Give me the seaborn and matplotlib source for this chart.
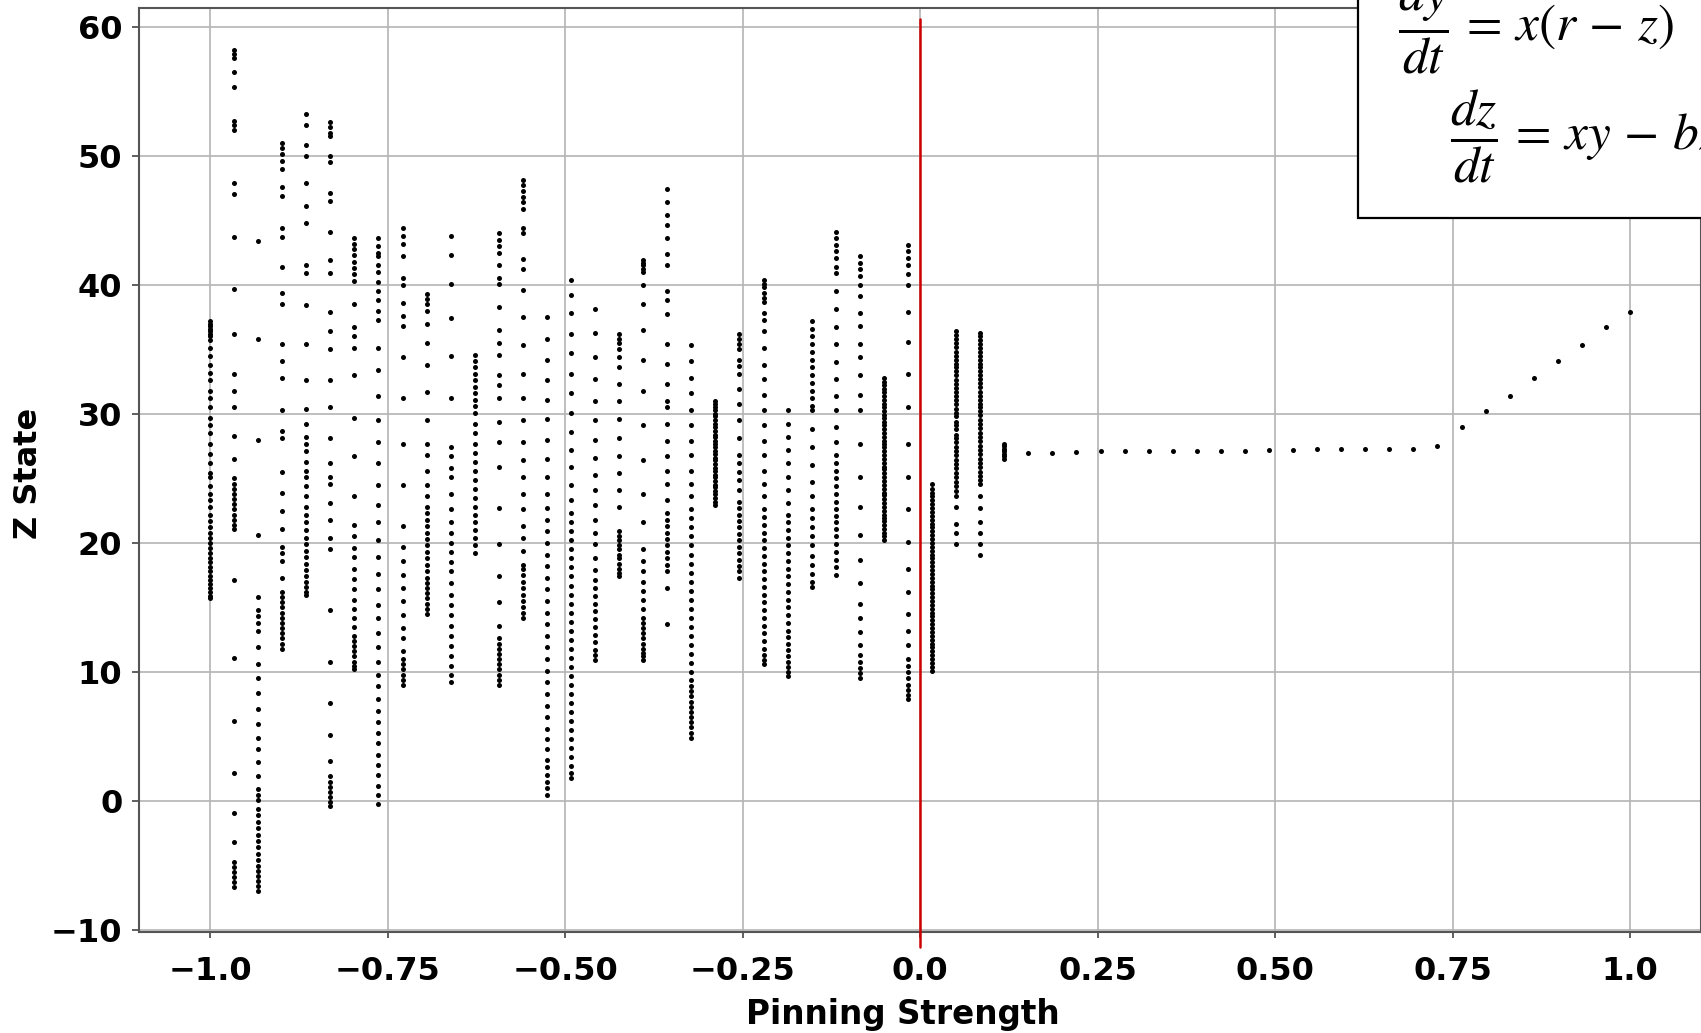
import numpy as np
import pandas as pd
import matplotlib
matplotlib.use("Agg")
import matplotlib.pyplot as plt
import seaborn as sns
from matplotlib.patches import Rectangle

# ---------------- data ----------------
pinning = np.linspace(-1.0, 1.0, 60)   # swept pinning strengths

col_00 = [37.2, 37.0, 36.8, 36.6, 36.4, 36.2, 36.0, 35.7, 35.1, 34.5, 33.8, 33.2, 32.6, 31.8, 31.2, 30.5,
          29.7, 29.1, 28.5, 27.7, 26.9, 26.2, 25.4, 25.1, 24.4, 23.8, 23.3, 22.8, 22.2, 21.7, 21.2, 20.8,
          20.4, 20.0, 19.6, 19.2, 18.8, 18.5, 18.1, 17.8, 17.4, 17.1, 16.8, 16.5, 16.2, 15.9, 15.7]
col_01 = [58.2, 57.9, 57.6, 56.5, 55.3, 52.7, 52.4, 52.0, 47.9, 47.0, 43.7, 39.7, 36.2, 33.1, 31.8, 30.5,
          28.3, 26.5, 25.0, 24.6, 24.2, 23.8, 23.4, 23.0, 22.6, 22.2, 21.8, 21.4, 21.1, 17.1, 11.1, 6.2,
          2.2, -0.9, -3.2, -4.7, -5.1, -5.5, -5.9, -6.3, -6.7]
col_02 = [43.4, 35.8, 28.0, 20.6, 15.8, 14.8, 14.3, 13.8, 13.2, 11.9, 10.6, 9.5, 8.4, 7.1, 6.0, 4.9, 4.0,
          3.0, 1.9, 0.9, 0.5, 0.1, -0.6, -1.1, -1.6, -2.1, -2.6, -3.1, -3.6, -4.1, -4.6, -5.0, -5.4,
          -5.8, -6.2, -6.6, -7.0]
col_03 = [51.0, 50.6, 50.1, 49.6, 49.0, 47.6, 46.9, 44.4, 43.7, 41.4, 39.4, 38.5, 35.4, 34.1, 32.8, 30.3,
          28.7, 28.1, 25.5, 23.9, 22.5, 21.1, 19.7, 19.2, 18.6, 17.3, 16.2, 15.8, 15.4, 15.0, 14.6, 14.2,
          13.8, 13.4, 13.0, 12.6, 12.2, 11.8]
col_04 = [53.2, 52.4, 50.8, 50.0, 47.9, 46.1, 44.8, 41.5, 40.9, 38.4, 35.4, 32.6, 30.4, 29.2, 28.2, 27.7,
          27.1, 26.3, 25.6, 25.1, 24.4, 23.6, 22.8, 22.2, 21.6, 21.0, 20.4, 19.9, 19.4, 18.9, 18.4, 17.9,
          17.4, 17.0, 16.6, 16.2, 16.0]
col_05 = [52.6, 52.2, 51.8, 51.5, 50.0, 49.5, 47.1, 46.5, 44.1, 41.9, 40.9, 37.9, 36.4, 35.0, 32.6, 30.5,
          28.1, 26.2, 25.1, 24.6, 23.1, 21.8, 20.4, 19.5, 14.8, 10.8, 7.6, 5.1, 3.1, 1.9, 1.5, 1.1, 0.7,
          0.3, -0.1, -0.4]
col_06 = [43.6, 43.2, 42.8, 42.3, 41.8, 41.3, 40.8, 40.3, 38.5, 36.7, 36.0, 35.1, 33.0, 29.7, 26.7, 23.6,
          21.4, 20.5, 19.6, 18.9, 18.0, 17.2, 16.4, 15.6, 14.9, 14.2, 13.5, 12.8, 12.4, 12.0, 11.6, 11.2,
          10.8, 10.5, 10.2]
col_07 = [43.6, 43.0, 42.5, 42.2, 41.5, 41.0, 40.2, 39.5, 38.8, 38.0, 37.3, 35.1, 33.4, 31.4, 29.5, 27.8,
          26.2, 24.5, 22.9, 21.6, 20.2, 18.9, 17.6, 16.4, 15.2, 14.2, 13.0, 11.9, 10.8, 9.8, 8.9, 7.9,
          7.0, 6.1, 5.3, 4.5, 3.6, 2.8, 2.0, 1.2, 0.5, -0.2]
col_08 = [44.4, 43.8, 43.2, 42.2, 40.5, 40.0, 38.6, 37.6, 36.8, 34.4, 31.2, 27.7, 24.5, 21.3, 19.7, 18.6,
          17.5, 16.5, 15.5, 14.4, 13.4, 12.6, 11.6, 11.0, 10.6, 10.2, 9.8, 9.4, 9.0]
col_09 = [39.3, 38.9, 38.5, 38.0, 37.0, 35.5, 33.8, 31.7, 29.5, 27.7, 26.8, 25.6, 24.5, 23.6, 22.8, 22.3,
          21.8, 21.3, 20.8, 20.3, 19.8, 19.3, 18.8, 18.3, 17.8, 17.3, 16.9, 16.5, 16.1, 15.7, 15.3, 14.9,
          14.5]
col_10 = [43.8, 42.3, 40.1, 37.4, 34.5, 31.2, 27.4, 26.7, 25.8, 25.1, 23.8, 22.6, 21.6, 20.8, 20.0, 19.3,
          18.5, 17.8, 16.9, 16.0, 15.2, 14.4, 13.6, 12.8, 12.0, 11.2, 10.5, 9.8, 9.2]
col_11 = [34.6, 34.1, 33.6, 33.1, 32.6, 32.1, 31.6, 31.1, 30.6, 30.1, 29.2, 28.5, 27.7, 27.0, 26.3, 25.6,
          24.9, 24.2, 23.5, 22.8, 22.2, 21.6, 21.0, 20.4, 19.8, 19.2]
col_12 = [44.0, 43.5, 43.0, 42.5, 41.5, 40.5, 40.1, 38.3, 36.5, 35.5, 34.6, 33.0, 32.2, 31.2, 29.4, 27.8,
          25.9, 22.7, 19.9, 17.4, 15.4, 13.6, 12.6, 12.2, 11.8, 11.4, 11.0, 10.6, 10.2, 9.8, 9.4, 9.0]
col_13 = [48.1, 47.7, 47.3, 46.8, 46.4, 45.9, 44.4, 44.0, 42.0, 41.2, 39.6, 37.5, 35.3, 33.1, 31.2, 29.5,
          27.8, 26.4, 25.1, 23.8, 22.6, 21.3, 20.4, 19.4, 18.3, 18.0, 17.5, 17.0, 16.5, 16.0, 15.5, 15.0,
          14.6, 14.2]
col_14 = [37.5, 35.8, 34.2, 32.6, 31.1, 29.6, 28.0, 26.5, 25.1, 23.8, 22.7, 21.8, 20.9, 20.0, 19.1, 18.2,
          17.3, 16.4, 15.5, 14.6, 13.7, 12.8, 11.9, 11.0, 10.1, 9.2, 8.3, 7.4, 6.5, 5.6, 4.8, 4.0, 3.2,
          2.6, 2.0, 1.5, 1.0, 0.5]
col_15 = [40.4, 39.2, 37.8, 36.2, 34.7, 33.1, 31.6, 30.1, 28.6, 27.2, 25.9, 24.5, 23.3, 22.3, 21.6, 20.9,
          20.2, 19.5, 18.8, 18.1, 17.4, 16.7, 16.0, 15.3, 14.6, 13.9, 13.2, 12.5, 11.8, 11.1, 10.4, 9.7,
          9.0, 8.3, 7.6, 6.9, 6.2, 5.5, 4.8, 4.1, 3.4, 2.7, 2.2, 1.8]
col_16 = [38.1, 36.3, 34.4, 32.7, 31.0, 29.5, 28.0, 26.6, 25.3, 24.1, 22.9, 21.8, 20.8, 19.9, 18.8, 17.9,
          17.1, 16.5, 15.9, 15.3, 14.7, 14.1, 13.5, 12.9, 12.3, 11.7, 11.3, 10.9]
col_17 = [36.2, 35.8, 35.5, 35.0, 34.4, 33.6, 32.3, 31.0, 29.6, 28.1, 26.7, 25.4, 24.1, 22.8, 20.9, 20.5,
          20.2, 19.8, 19.5, 19.1, 18.8, 18.4, 18.0, 17.7, 17.4]
col_18 = [41.9, 41.7, 41.5, 41.2, 41.0, 40.0, 38.5, 36.5, 34.2, 31.8, 29.1, 26.4, 23.8, 21.6, 19.5, 18.6,
          17.8, 17.0, 16.3, 15.6, 14.9, 14.2, 13.8, 13.4, 13.0, 12.6, 12.2, 11.8, 11.5, 11.2, 10.9]
col_19 = [47.4, 46.4, 45.4, 44.6, 43.6, 42.4, 41.5, 39.5, 38.8, 37.7, 35.4, 33.9, 32.3, 31.0, 30.5, 29.2,
          27.9, 26.7, 25.6, 24.6, 23.3, 22.3, 21.8, 21.3, 20.8, 20.3, 19.8, 19.3, 18.8, 18.3, 17.8, 16.5,
          13.7]
col_20 = [35.3, 34.1, 32.8, 31.6, 30.3, 29.1, 27.9, 26.8, 25.6, 24.6, 23.6, 22.6, 21.9, 21.2, 20.5, 19.8,
          19.1, 18.4, 17.7, 17.0, 16.3, 15.6, 14.9, 14.2, 13.5, 12.8, 12.1, 11.4, 10.7, 10.0, 9.4, 8.9,
          8.5, 8.1, 7.7, 7.3, 6.9, 6.5, 6.1, 5.7, 5.3, 4.9]
col_21 = [31.0, 30.8, 30.5, 30.3, 30.0, 29.8, 29.5, 29.2, 29.0, 28.7, 28.4, 28.2, 27.9, 27.7, 27.4, 27.1,
          26.9, 26.6, 26.4, 26.1, 25.8, 25.6, 25.3, 25.1, 24.8, 24.5, 24.3, 24.0, 23.8, 23.5, 23.2, 22.9]
col_22 = [36.2, 35.8, 35.4, 35.0, 34.2, 33.7, 33.1, 31.9, 30.8, 29.5, 28.1, 26.8, 26.2, 25.5, 24.9, 24.1,
          23.2, 22.7, 22.2, 21.7, 21.2, 20.7, 20.2, 19.7, 19.2, 18.7, 18.2, 17.8, 17.3]
col_23 = [40.4, 40.1, 39.8, 39.4, 39.0, 38.7, 37.8, 37.3, 36.4, 35.1, 33.8, 32.7, 31.5, 30.3, 29.1, 27.9,
          26.8, 25.6, 24.6, 23.6, 22.6, 22.0, 21.4, 20.8, 20.2, 19.6, 19.0, 18.4, 17.8, 17.2, 16.6, 16.0,
          15.4, 14.8, 14.2, 13.6, 13.0, 12.4, 11.8, 11.3, 10.9, 10.6]
col_24 = [30.3, 29.2, 28.2, 27.2, 26.2, 25.1, 24.1, 23.1, 22.2, 21.6, 21.0, 20.4, 19.8, 19.2, 18.6, 18.0,
          17.4, 16.8, 16.2, 15.6, 15.0, 14.4, 13.8, 13.2, 12.7, 12.2, 11.7, 11.2, 10.8, 10.4, 10.0, 9.7]
col_25 = [37.2, 36.6, 36.0, 35.4, 34.8, 34.2, 33.6, 33.0, 32.4, 31.8, 31.2, 30.6, 30.3, 28.8, 27.4, 26.0,
          24.7, 23.6, 22.6, 21.9, 21.2, 20.5, 19.8, 19.0, 18.3, 17.6, 17.0, 16.6]
col_26 = [44.1, 43.6, 43.1, 42.6, 42.1, 41.4, 40.9, 39.5, 38.1, 36.7, 35.4, 34.0, 32.7, 31.4, 30.3, 29.0,
          27.8, 26.8, 26.2, 25.6, 25.0, 24.4, 23.8, 23.2, 22.6, 22.1, 21.6, 21.1, 20.5, 19.9, 19.3, 18.7,
          18.1, 17.5]
col_27 = [42.2, 41.7, 41.2, 40.7, 40.0, 39.1, 37.8, 36.8, 35.4, 34.4, 33.0, 31.5, 30.3, 27.7, 25.1, 22.8,
          20.6, 18.7, 16.9, 15.3, 14.2, 13.1, 12.1, 11.3, 10.8, 10.3, 9.9, 9.5]
col_28 = [32.8, 32.5, 32.2, 31.9, 31.7, 31.4, 31.1, 30.8, 30.5, 30.2, 29.9, 29.7, 29.4, 29.1, 28.8, 28.5,
          28.2, 27.9, 27.7, 27.4, 27.1, 26.8, 26.5, 26.2, 25.9, 25.7, 25.4, 25.1, 24.8, 24.5, 24.2, 23.9,
          23.7, 23.4, 23.1, 22.8, 22.5, 22.2, 21.9, 21.7, 21.4, 21.1, 20.8, 20.5, 20.2]
col_29 = [43.1, 42.6, 42.1, 41.5, 40.8, 40.0, 37.9, 35.6, 33.1, 30.5, 27.7, 25.1, 22.6, 20.1, 18.0, 16.2,
          14.5, 13.2, 12.1, 11.0, 10.5, 10.0, 9.5, 9.0, 8.6, 8.2, 7.9]
col_30 = [24.6, 24.2, 23.9, 23.6, 23.3, 23.0, 22.7, 22.4, 22.1, 21.8, 21.5, 21.2, 20.9, 20.6, 20.3, 20.0,
          19.7, 19.4, 19.1, 18.8, 18.5, 18.2, 17.9, 17.6, 17.3, 17.0, 16.7, 16.4, 16.1, 15.8, 15.5, 15.2,
          14.9, 14.6, 14.3, 14.0, 13.7, 13.4, 13.1, 12.8, 12.5, 12.2, 11.9, 11.6, 11.3, 11.0, 10.7, 10.4,
          10.1]
col_31 = [36.4, 36.1, 35.8, 35.5, 35.2, 34.8, 34.5, 34.2, 33.9, 33.6, 33.3, 33.0, 32.6, 32.3, 32.0, 31.7,
          31.4, 31.1, 30.8, 30.4, 30.1, 29.8, 29.4, 29.1, 28.8, 28.4, 28.1, 27.8, 27.4, 27.1, 26.8, 26.4,
          26.1, 25.8, 25.4, 25.1, 24.7, 24.4, 24.0, 23.6, 22.8, 21.5, 20.8, 19.9]
col_32 = [36.3, 36.0, 35.7, 35.4, 35.1, 34.8, 34.5, 34.2, 33.9, 33.6, 33.3, 33.0, 32.7, 32.4, 32.1, 31.7,
          31.4, 31.1, 30.8, 30.5, 30.2, 29.9, 29.5, 29.2, 28.9, 28.5, 28.2, 27.9, 27.5, 27.2, 26.9, 26.5,
          26.2, 25.9, 25.5, 25.2, 24.9, 24.6, 23.6, 22.7, 21.6, 20.8, 19.9, 19.1]
col_33 = [27.7, 27.5, 27.3, 27.1, 26.9, 26.7, 26.5]

# single fixed point for the remaining pinning strengths (columns 34..59)
stable_branch = [27.0, 27.0, 27.05, 27.1, 27.1, 27.1, 27.1, 27.1, 27.15, 27.15, 27.2, 27.2, 27.25,
                 27.25, 27.25, 27.25, 27.25, 27.5, 29.0, 30.2, 31.4, 32.8, 34.1, 35.3, 36.7, 37.9]

xtick_values = [-1.0, -0.75, -0.5, -0.25, 0.0, 0.25, 0.5, 0.75, 1.0]
xtick_labels = ["\u22121.0", "\u22120.75", "\u22120.50", "\u22120.25", "0.0", "0.25", "0.50", "0.75", "1.0"]
ytick_values = [-10, 0, 10, 20, 30, 40, 50, 60]
ytick_labels = ["\u221210", "0", "10", "20", "30", "40", "50", "60"]

chaotic_cols = [col_00, col_01, col_02, col_03, col_04, col_05, col_06, col_07, col_08, col_09,
                col_10, col_11, col_12, col_13, col_14, col_15, col_16, col_17, col_18, col_19,
                col_20, col_21, col_22, col_23, col_24, col_25, col_26, col_27, col_28, col_29,
                col_30, col_31, col_32, col_33]

rows = []
for k, col in enumerate(chaotic_cols):
    for z in col:
        rows.append((pinning[k], z))
for j, z in enumerate(stable_branch):
    rows.append((pinning[len(chaotic_cols) + j], z))
df = pd.DataFrame(rows, columns=["Pinning Strength", "Z State"])

# ---------------- plot ----------------
sns.set_theme(style="ticks")
plt.rcParams['font.family'] = ['DejaVu Sans']
plt.rcParams['mathtext.fontset'] = 'stix'
plt.rcParams['text.color'] = 'black'
plt.rcParams['xtick.color'] = '#444444'
plt.rcParams['ytick.color'] = '#444444'
plt.rcParams['xtick.labelcolor'] = 'black'
plt.rcParams['ytick.labelcolor'] = 'black'
plt.rcParams['axes.labelcolor'] = 'black'

W, H = 1701, 1033
fig = plt.figure(figsize=(W / 100, H / 100), dpi=100)
fig.patch.set_facecolor("white")
ax = fig.add_axes([139 / W, 101 / H, 1562 / W, 924 / H])
ax.set_facecolor("white")
ax.grid(True, color="#b4b4b4", linewidth=1.2)
ax.set_axisbelow(True)

sns.scatterplot(data=df, x="Pinning Strength", y="Z State", color="black", s=13,
                linewidth=0, ax=ax, zorder=3, legend=False)

ax.plot([0, 0], [-11.3, 60.6], color="#cc0000", linewidth=1.8, clip_on=False, zorder=4)

ax.set_xlim(-1.1, 1.1)
ax.set_ylim(-10.15, 61.45)
ax.set_xticks(xtick_values)
ax.set_xticklabels(xtick_labels)
ax.set_yticks(ytick_values)
ax.set_yticklabels(ytick_labels)
ax.tick_params(axis="x", labelsize=23, length=4, width=1.2, pad=13)
ax.tick_params(axis="y", labelsize=23, length=5, width=1.2, pad=7)
for lab in ax.get_xticklabels() + ax.get_yticklabels():
    lab.set_fontweight("bold")

for side in ["left", "bottom", "top", "right"]:
    ax.spines[side].set_color("#555555")
    ax.spines[side].set_linewidth(1.5)

ax.set_xlabel("Pinning Strength", fontsize=23.5, fontweight="bold")
ax.set_ylabel("Z State", fontsize=23, fontweight="bold")
ax.xaxis.set_label_coords((903 - 139) / 1562, -0.071)
ax.yaxis.set_label_coords(-0.061, 0.496)

# equation box (partially outside the figure)
box = Rectangle((1358 / W, 1 - 218 / H), 0.5, 0.5, transform=fig.transFigure,
                facecolor="white", edgecolor="black", linewidth=1.6, zorder=10)
fig.add_artist(box)
fig.text(1398 / W, 1 - 41 / H, r"$\dfrac{dy}{dt}\,=\,x(r\,-\,z)$", fontsize=37,
         ha="left", va="baseline", zorder=11)
fig.text(1450 / W, 1 - 150 / H, r"$\dfrac{dz}{dt}\,=\,xy\,-\,bz$", fontsize=37,
         ha="left", va="baseline", zorder=11)

fig.savefig("out.png", dpi=100, facecolor="white")
